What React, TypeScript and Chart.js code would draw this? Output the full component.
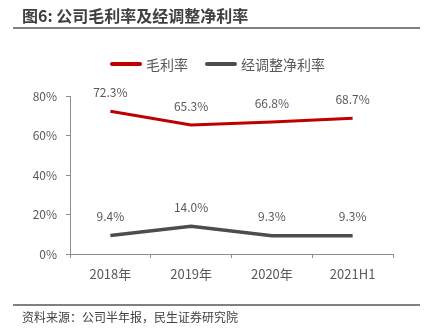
import React, { useEffect, useRef } from "react";
import { Chart, registerables } from "chart.js";

Chart.register(...registerables);

const title = "图6: 公司毛利率及经调整净利率";
const source = "资料来源：公司半年报，民生证券研究院";
const categories = ["2018年", "2019年", "2020年", "2021H1"];
const grossMargin = [72.3, 65.3, 66.8, 68.7];
const adjNetMargin = [9.4, 14.0, 9.3, 9.3];
const seriesNames = ["毛利率", "经调整净利率"];
const seriesColors = ["#C00000", "#4D4D4D"];
const yTicks = [0, 20, 40, 60, 80];

const FONT = "'Noto Sans CJK SC', 'Noto Sans', sans-serif";
const TEXT = "#595959";

const dataLabelPlugin = {
  id: "dataLabels",
  afterDatasetsDraw(chart: any) {
    const ctx = chart.ctx;
    ctx.save();
    ctx.font = `12px ${FONT}`;
    ctx.fillStyle = TEXT;
    ctx.textAlign = "center";
    ctx.textBaseline = "middle";
    chart.data.datasets.forEach((ds: any, i: number) => {
      const meta = chart.getDatasetMeta(i);
      meta.data.forEach((pt: any, j: number) => {
        ctx.fillText(ds.data[j].toFixed(1) + "%", pt.x, pt.y - 19);
      });
    });
    ctx.restore();
  },
};

export default function App() {
  const ref = useRef<HTMLCanvasElement>(null);
  useEffect(() => {
    const chart = new Chart(ref.current!, {
      type: "line",
      data: {
        labels: categories,
        datasets: [
          {
            label: seriesNames[0],
            data: grossMargin,
            borderColor: seriesColors[0],
            backgroundColor: seriesColors[0],
            borderWidth: 3,
            pointRadius: 0,
            tension: 0,
          },
          {
            label: seriesNames[1],
            data: adjNetMargin,
            borderColor: seriesColors[1],
            backgroundColor: seriesColors[1],
            borderWidth: 3.5,
            pointRadius: 0,
            tension: 0,
          },
        ],
      },
      options: {
        animation: false,
        responsive: false,
        layout: { padding: { left: 0, right: 31, top: 96, bottom: 0 } },
        plugins: { legend: { display: false }, tooltip: { enabled: false } },
        scales: {
          x: {
            offset: true,
            grid: {
              offset: true,
              drawOnChartArea: false,
              drawTicks: true,
              tickLength: 4,
              color: "#8C8C8C",
            },
            border: { color: "#8C8C8C", width: 1 },
            ticks: { color: TEXT, font: { size: 13, family: FONT }, padding: 8, maxRotation: 0 },
            afterFit(scale: any) {
              scale.height = 81;
            },
          },
          y: {
            min: 0,
            max: 80,
            afterBuildTicks(scale: any) {
              scale.ticks = yTicks.map((v) => ({ value: v }));
            },
            grid: {
              drawOnChartArea: false,
              drawTicks: true,
              tickLength: 4,
              color: "#8C8C8C",
            },
            border: { color: "#8C8C8C", width: 1 },
            ticks: {
              color: TEXT,
              font: { size: 12, family: FONT },
              padding: 9,
              callback: (v: any) => v + "%",
            },
            afterFit(scale: any) {
              scale.width = 70;
            },
          },
        },
      },
      plugins: [dataLabelPlugin],
    });
    return () => chart.destroy();
  }, []);

  const legendItem = (i: number, left: number) => (
    <div
      key={i}
      style={{
        position: "absolute",
        left,
        top: 54,
        height: 20,
        display: "flex",
        alignItems: "center",
        fontFamily: FONT,
        fontSize: 14,
        color: TEXT,
      }}
    >
      <div style={{ width: 32, height: 4, background: seriesColors[i], borderRadius: 2, marginRight: 4 }} />
      <span>{seriesNames[i]}</span>
    </div>
  );

  return (
    <div style={{ position: "fixed", left: 0, top: 0, width: 424, height: 335, background: "#fff" }}>
      <canvas ref={ref} width={424} height={335} style={{ position: "absolute", left: 0, top: 0 }} />
      <div
        style={{
          position: "absolute",
          left: 22,
          top: 4,
          fontFamily: FONT,
          fontWeight: 700,
          fontSize: 16,
          lineHeight: "22px",
          color: "#404040",
          whiteSpace: "nowrap",
        }}
      >
        {title}
      </div>
      <div style={{ position: "absolute", left: 13, top: 27, width: 407, height: 2, background: "#808080" }} />
      {legendItem(0, 110)}
      {legendItem(1, 205)}
      <div style={{ position: "absolute", left: 13, top: 304, width: 407, height: 1.5, background: "#808080" }} />
      <div
        style={{
          position: "absolute",
          left: 22,
          top: 308,
          fontFamily: FONT,
          fontSize: 12,
          lineHeight: "18px",
          color: "#404040",
          whiteSpace: "nowrap",
        }}
      >
        {source}
      </div>
    </div>
  );
}
